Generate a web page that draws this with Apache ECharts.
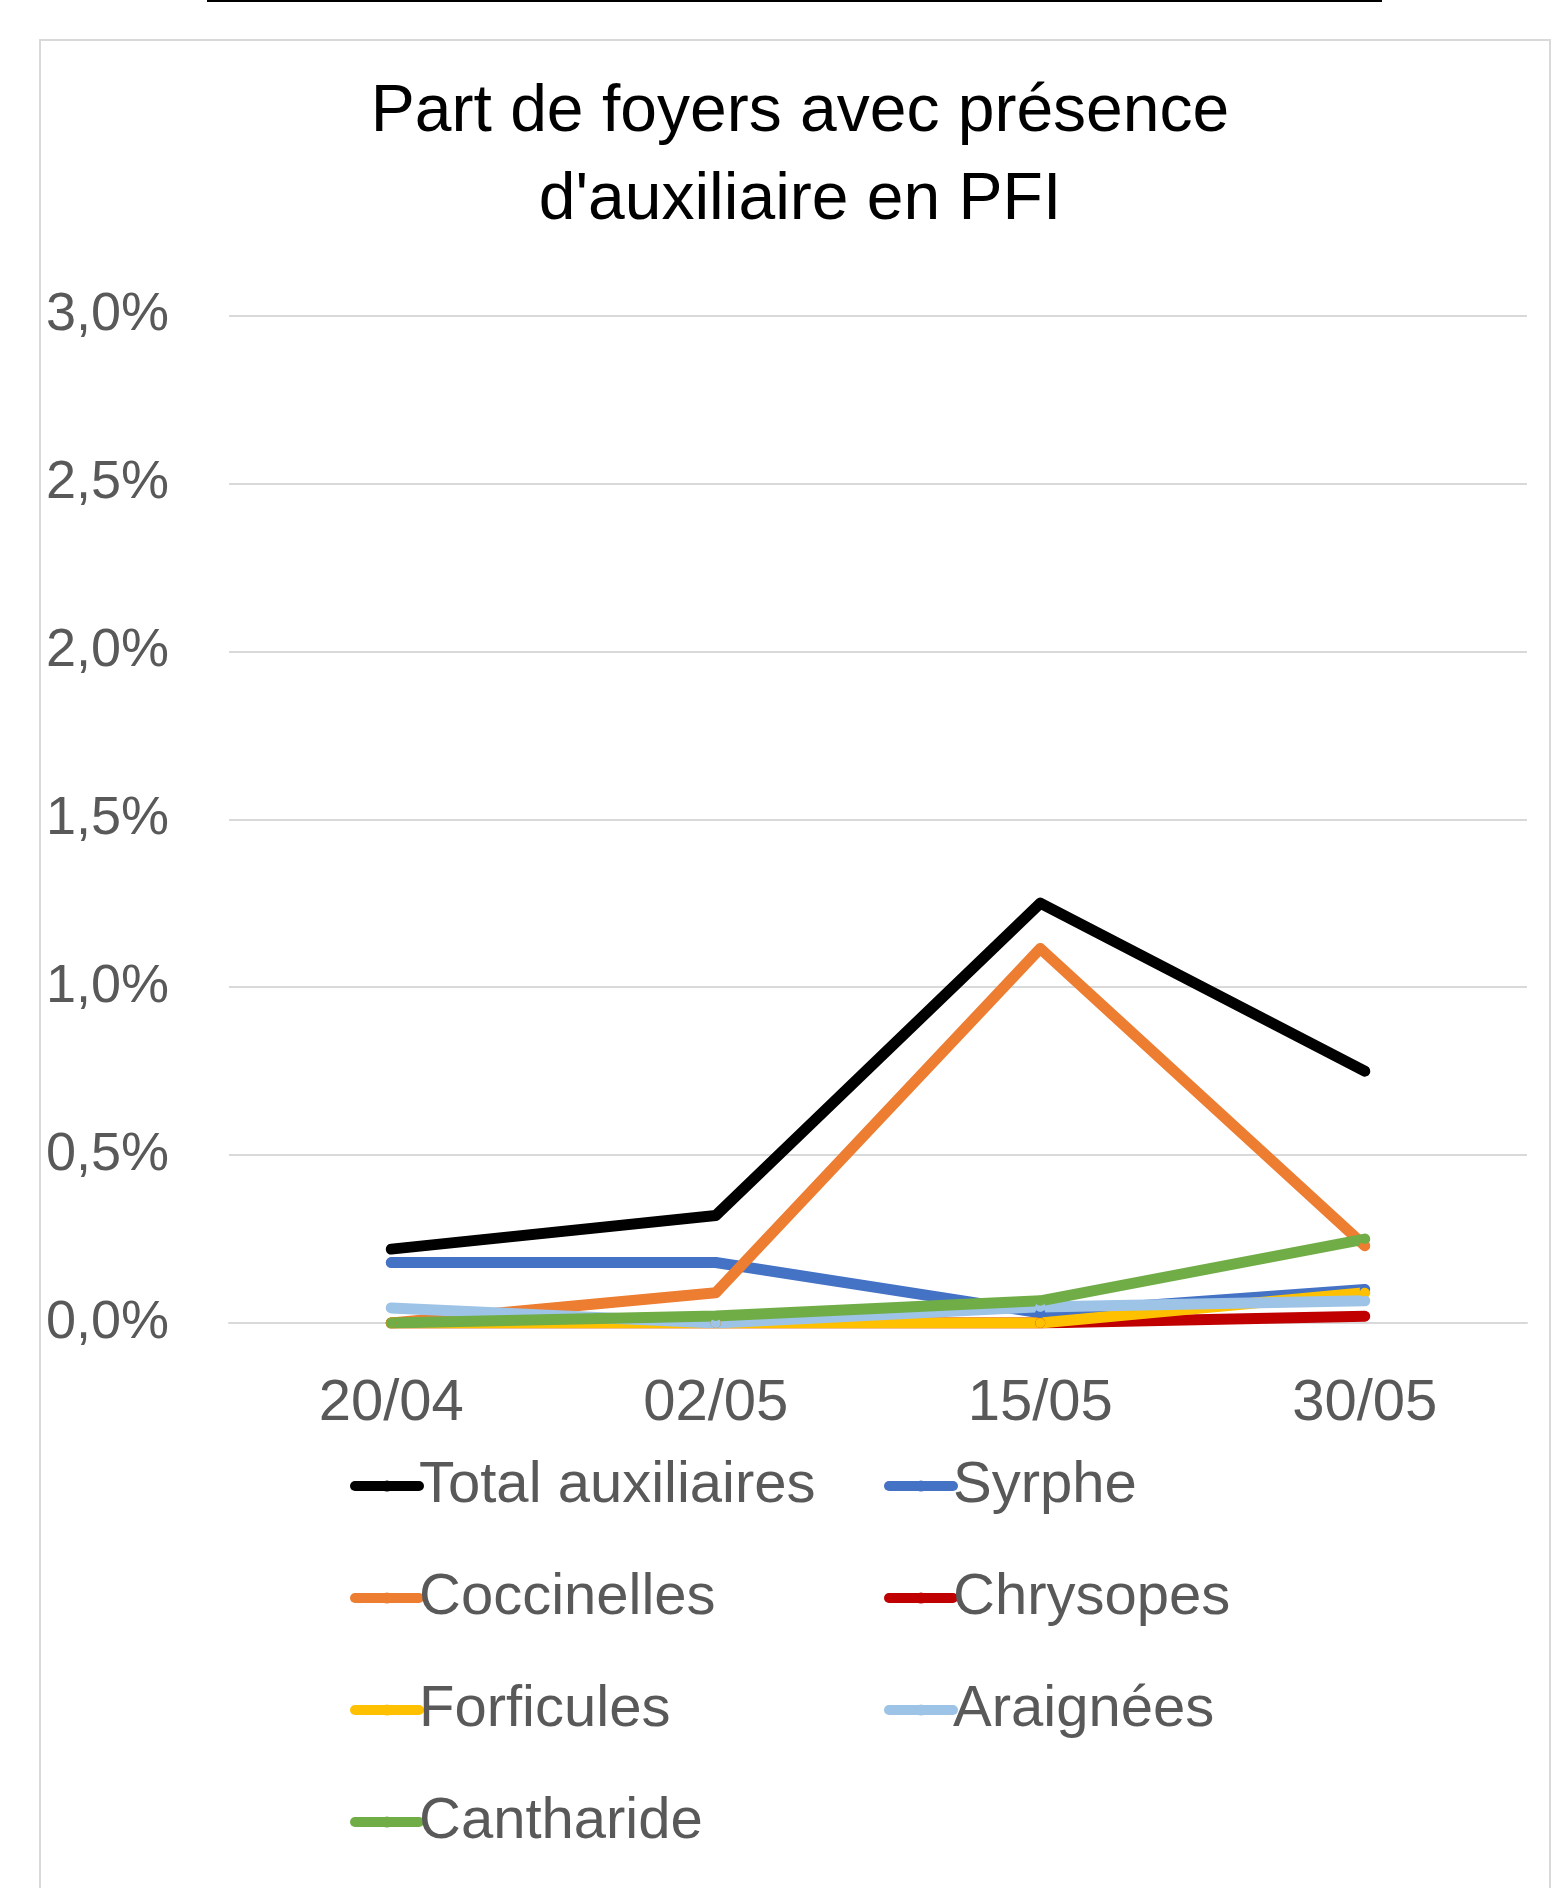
<!DOCTYPE html>
<html>
<head>
<meta charset="utf-8">
<script src="https://cdn.jsdelivr.net/npm/echarts@6/dist/echarts.min.js"></script>
<style>
html,body{margin:0;padding:0;background:#fff;}
#chart{width:1557px;height:1888px;}
</style>
</head>
<body>
<div id="chart"></div>
<script>
const categories = ['20/04', '02/05', '15/05', '30/05'];
const yTicks = [0, 0.5, 1.0, 1.5, 2.0, 2.5, 3.0];
const totalAuxiliaires = [0.22, 0.32, 1.25, 0.75];
const syrphe = [0.18, 0.18, 0.03, 0.10];
const coccinelles = [0.00, 0.09, 1.115, 0.23];
const chrysopes = [0.00, 0.00, 0.00, 0.02];
const forficules = [0.00, 0.00, 0.00, 0.09];
const araignees = [0.045, 0.00, 0.048, 0.066];
const cantharide = [0.00, 0.021, 0.066, 0.25];

const seriesDefs = [
  {name: 'Total auxiliaires', data: totalAuxiliaires, color: '#000000'},
  {name: 'Syrphe', data: syrphe, color: '#4472C4'},
  {name: 'Coccinelles', data: coccinelles, color: '#ED7D31'},
  {name: 'Chrysopes', data: chrysopes, color: '#C00000'},
  {name: 'Forficules', data: forficules, color: '#FFC000'},
  {name: 'Araignées', data: araignees, color: '#9DC3E6'},
  {name: 'Cantharide', data: cantharide, color: '#70AD47'}
];

const FONT = 'Liberation Sans';
const chart = echarts.init(document.getElementById('chart'), null, {renderer: 'canvas'});

const legendCommon = {
  orient: 'vertical',
  itemWidth: 64,
  itemHeight: 14,
  itemGap: 52,
  itemStyle: {borderWidth: 0},
  lineStyle: {width: 10},
  textStyle: {fontFamily: FONT, fontSize: 58, color: '#595959', lineHeight: 60, padding: [0, 0, 0, -5]},
  top: 1451,
  selectedMode: false
};

chart.setOption({
  animation: false,
  backgroundColor: '#ffffff',
  graphic: [
    {type: 'rect', z: -10, shape: {x: 40, y: 40, width: 1510, height: 1900}, style: {fill: '#fff', stroke: '#d9d9d9', lineWidth: 2}},
    {type: 'rect', z: -10, shape: {x: 207, y: 0, width: 1175, height: 2}, style: {fill: '#000'}}
  ],
  title: {
    text: "Part de foyers avec présence\nd'auxiliaire en PFI",
    left: 795,
    textAlign: 'center',
    top: 64,
    textStyle: {fontFamily: FONT, fontSize: 66, fontWeight: 'normal', color: '#000', lineHeight: 88}
  },
  grid: {left: 229, right: 30, top: 315.5, bottom: 565, containLabel: false},
  xAxis: {
    type: 'category',
    data: categories,
    boundaryGap: true,
    axisLine: {show: true, lineStyle: {color: '#d9d9d9', width: 2}},
    axisTick: {show: false},
    axisLabel: {fontFamily: FONT, fontSize: 58, color: '#595959', margin: 52}
  },
  yAxis: {
    type: 'value',
    min: yTicks[0],
    max: yTicks[yTicks.length - 1],
    interval: 0.5,
    axisLine: {show: false},
    axisTick: {show: false},
    splitLine: {lineStyle: {color: '#d9d9d9', width: 2}},
    axisLabel: {
      fontFamily: FONT, fontSize: 54, color: '#595959', margin: 60,
      formatter: v => v.toFixed(1).replace('.', ',') + '%'
    }
  },
  legend: [
    Object.assign({}, legendCommon, {left: 345, data: ['Total auxiliaires', 'Coccinelles', 'Forficules', 'Cantharide']}),
    Object.assign({}, legendCommon, {left: 879, data: ['Syrphe', 'Chrysopes', 'Araignées']})
  ],
  series: seriesDefs.map(s => ({
    name: s.name,
    type: 'line',
    data: s.data,
    symbol: 'circle',
    symbolSize: 10,
    showSymbol: true,
    itemStyle: {color: s.color},
    lineStyle: {color: s.color, width: 11, cap: 'round', join: 'round'}
  }))
});
</script>
</body>
</html>
